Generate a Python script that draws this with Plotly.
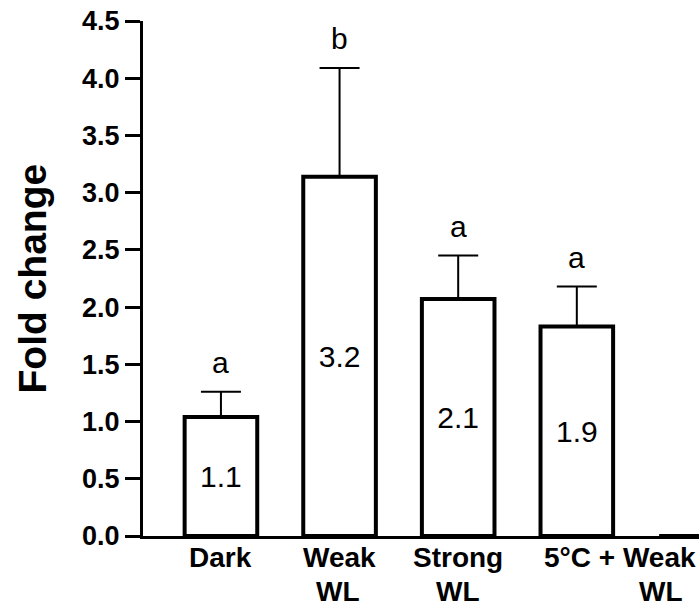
import plotly.graph_objects as go

categories = ["Dark", "Weak WL", "Strong WL", "5°C + Weak WL", ""]
label_line1 = ["Dark", "Weak", "Strong", "5°C + Weak"]
label_line2 = ["", "WL", "WL", "WL"]
means = [1.04, 3.14, 2.07, 1.83, 0.0]
errors = [0.22, 0.95, 0.38, 0.35, 0.0]
value_labels = ["1.1", "3.2", "2.1", "1.9", ""]
letters = ["a", "b", "a", "a", ""]
y_ticks = [0.0, 0.5, 1.0, 1.5, 2.0, 2.5, 3.0, 3.5, 4.0, 4.5]

FONT = "Liberation Sans, Arial, sans-serif"
xs = list(range(len(categories)))

fig = go.Figure()
fig.add_trace(go.Bar(
    x=xs, y=means, width=0.612,
    marker=dict(color="white", line=dict(color="black", width=4)),
    error_y=dict(type="data", symmetric=False, array=errors,
                 arrayminus=[0] * len(errors), color="black",
                 thickness=2, width=20),
    text=value_labels, textposition="inside", insidetextanchor="middle",
    textfont=dict(family=FONT, size=30, color="black"),
    textangle=0, cliponaxis=False, showlegend=False, hoverinfo="skip",
))

annotations = []
# significance letters
for i, (m, e, l) in enumerate(zip(means, errors, letters)):
    if l:
        annotations.append(dict(x=i, y=m + e, xref="x", yref="y", text=l,
                                showarrow=False, yanchor="middle", yshift=29,
                                font=dict(family=FONT, size=30, color="black")))
# category labels
shift1 = [0, 0, 0, 43]
shift2 = [0, -2, 0, 84]
for i, (l1, l2) in enumerate(zip(label_line1, label_line2)):
    annotations.append(dict(x=i, y=0, xref="x", yref="paper", text="<b>%s</b>" % l1,
                            showarrow=False, yanchor="middle", yshift=-21,
                            xshift=shift1[i],
                            font=dict(family=FONT, size=28, color="black")))
    if l2:
        annotations.append(dict(x=i, y=0, xref="x", yref="paper", text="<b>%s</b>" % l2,
                                showarrow=False, yanchor="middle", yshift=-55,
                                xshift=shift2[i],
                                font=dict(family=FONT, size=28, color="black")))
# y-axis title
annotations.append(dict(x=0, y=0.5, xref="paper", yref="paper",
                        text="<b>Fold change</b>", textangle=-90, showarrow=False,
                        xanchor="center", yanchor="middle", xshift=-111,
                        font=dict(family=FONT, size=39, color="black")))

fig.update_layout(
    width=699, height=608,
    margin=dict(l=143, r=0, t=21, b=72, autoexpand=False),
    plot_bgcolor="white", paper_bgcolor="white",
    xaxis=dict(range=[-0.657, 4.03], showticklabels=False, ticks="",
               showgrid=False, zeroline=False, showline=True,
               linecolor="black", linewidth=3),
    yaxis=dict(range=[0, 4.5], tickvals=y_ticks,
               ticktext=["%.1f" % v for v in y_ticks],
               ticks="outside", ticklen=15, tickwidth=3, tickcolor="black",
               showgrid=False, zeroline=False, showline=True,
               linecolor="black", linewidth=3,
               tickfont=dict(family=FONT, size=27, color="black", weight="bold")),
    annotations=annotations,
)

fig.write_html("out.html", config={"displayModeBar": False},
               post_script="document.body.style.margin='0';document.body.style.overflow='hidden';")
